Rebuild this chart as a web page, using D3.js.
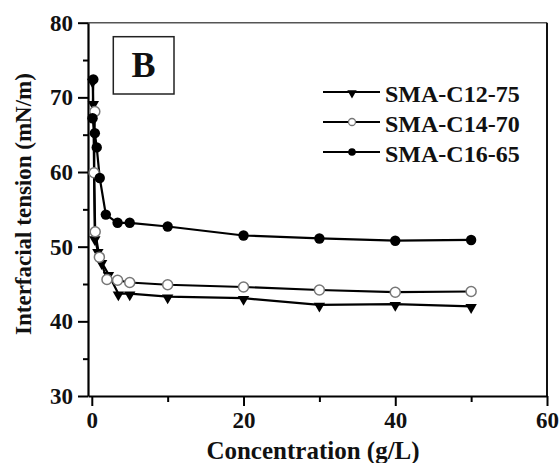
<!DOCTYPE html>
<html>
<head>
<meta charset="utf-8">
<script src="https://cdn.jsdelivr.net/npm/d3@7"></script>
<style>
  body { margin: 0; background: #fff; }
  text { font-family: "Liberation Serif", "Times New Roman", serif; font-weight: bold; }
</style>
</head>
<body>
<div id="chart"></div>
<script>
// data
var c12x = [0.1, 0.2, 0.4, 0.8, 1.3, 2.2, 3.5, 5, 10, 20, 30, 40, 50];
var c12y = [72.2, 69.2, 51.1, 49.4, 47.9, 46.3, 43.7, 43.7, 43.3, 43.1, 42.2, 42.3, 42.0];

var c14x = [0.4, 0.3, 0.45, 1, 2, 3.4, 5, 10, 20, 30, 40, 50];
var c14y = [68.1, 59.9, 52.0, 48.6, 45.6, 45.5, 45.2, 44.9, 44.6, 44.2, 43.9, 44.0];

var c16x = [0.2, 0.1, 0.4, 0.65, 1.05, 1.85, 3.4, 5, 10, 20, 30, 40, 50];
var c16y = [72.4, 67.2, 65.2, 63.3, 59.2, 54.3, 53.2, 53.2, 52.7, 51.5, 51.1, 50.8, 50.9];

var seriesNames = ["SMA-C12-75", "SMA-C14-70", "SMA-C16-65"];
var xTicks = [0, 20, 40, 60];
var xMinor = [10, 30, 50];
var yTicks = [30, 40, 50, 60, 70, 80];
var yMinor = [35, 45, 55, 65, 75];

var svgWidth = 560, svgHeight = 463;
var plotLeft = 88, plotRight = 547, plotTop = 22.7, plotBottom = 396;

var svg = d3.select("#chart").append("svg")
  .attr("width", svgWidth)
  .attr("height", svgHeight);

var x = d3.scaleLinear().domain([-0.5, 60]).range([plotLeft, plotRight]);
var y = d3.scaleLinear().domain([30, 80]).range([plotBottom, plotTop]);

// frame top / right
svg.append("line").attr("x1", plotLeft).attr("x2", plotRight).attr("y1", plotTop).attr("y2", plotTop)
  .attr("stroke", "#555").attr("stroke-width", 1.5);
svg.append("line").attr("x1", plotRight).attr("x2", plotRight).attr("y1", plotTop).attr("y2", plotBottom)
  .attr("stroke", "#111").attr("stroke-width", 2);

// minor ticks first, then the main axes
svg.append("g").attr("class", "minor").attr("transform", `translate(0,${plotBottom})`)
  .call(d3.axisBottom(x).tickValues(xMinor).tickSize(6).tickFormat(""));
svg.append("g").attr("class", "minor").attr("transform", `translate(${plotLeft},0)`)
  .call(d3.axisLeft(y).tickValues(yMinor).tickSize(5).tickFormat(""));
svg.selectAll(".minor .domain").remove();

var xAxis = svg.append("g").attr("transform", `translate(0,${plotBottom})`)
  .call(d3.axisBottom(x).tickValues(xTicks).tickSize(10).tickSizeOuter(0).tickPadding(6).tickFormat(d3.format("d")));
var yAxis = svg.append("g").attr("transform", `translate(${plotLeft},0)`)
  .call(d3.axisLeft(y).tickValues(yTicks).tickSize(10).tickSizeOuter(0).tickPadding(5).tickFormat(d3.format("d")));

svg.selectAll(".domain").attr("stroke", "#000").attr("stroke-width", 2.2);
svg.selectAll(".tick line").attr("stroke", "#000").attr("stroke-width", 2);
svg.selectAll(".tick text")
  .attr("font-family", "Liberation Serif, serif")
  .attr("font-weight", "bold")
  .attr("font-size", 23)
  .attr("fill", "#111");

// axis titles
svg.append("text")
  .attr("x", 313).attr("y", 459)
  .attr("text-anchor", "middle")
  .attr("font-size", 25)
  .attr("fill", "#111")
  .text("Concentration (g/L)");

svg.append("text")
  .attr("transform", "translate(31,204) rotate(-90)")
  .attr("text-anchor", "middle")
  .attr("font-size", 23)
  .attr("fill", "#111")
  .text("Interfacial tension (mN/m)");

// panel label
svg.append("rect").attr("x", 113.3).attr("y", 36.7).attr("width", 60.7).attr("height", 57.3)
  .attr("fill", "none").attr("stroke", "#222").attr("stroke-width", 1.5);
svg.append("text").attr("x", 143.6).attr("y", 77.3).attr("text-anchor", "middle")
  .attr("font-size", 36).attr("fill", "#111").text("B");

var line = d3.line().x(d => x(d[0])).y(d => y(d[1]));

function pairs(xs, ys) { return xs.map((v, i) => [v, ys[i]]); }

var d12 = pairs(c12x, c12y), d14 = pairs(c14x, c14y), d16 = pairs(c16x, c16y);

var tri = d3.symbol().type(d3.symbolTriangle).size(56);
var triSmall = d3.symbol().type(d3.symbolTriangle).size(38);

// lines
[d16, d14, d12].forEach(function(d) {
  svg.append("path").datum(d)
    .attr("d", line)
    .attr("fill", "none")
    .attr("stroke", "#000")
    .attr("stroke-width", 2.2);
});

// markers
svg.selectAll(".m12").data(d12).enter().append("path")
  .attr("class", "m12")
  .attr("d", tri)
  .attr("transform", d => `translate(${x(d[0])},${y(d[1]) + 1}) rotate(180)`)
  .attr("fill", "#000");

svg.selectAll(".m14").data(d14).enter().append("circle")
  .attr("class", "m14")
  .attr("cx", d => x(d[0])).attr("cy", d => y(d[1]))
  .attr("r", 5)
  .attr("fill", "#fff").attr("stroke", "#777").attr("stroke-width", 1.5);

svg.selectAll(".m16").data(d16).enter().append("circle")
  .attr("class", "m16")
  .attr("cx", d => x(d[0])).attr("cy", d => y(d[1]))
  .attr("r", 5.2)
  .attr("fill", "#000");

// legend
var legendY = [92, 122, 152];
seriesNames.forEach(function(name, i) {
  var ly = legendY[i];
  svg.append("line").attr("x1", 323).attr("x2", 380).attr("y1", ly).attr("y2", ly)
    .attr("stroke", "#000").attr("stroke-width", 2.2);
  if (i === 0) {
    svg.append("path").attr("d", triSmall)
      .attr("transform", `translate(352,${ly + 1}) rotate(180)`).attr("fill", "#000");
  } else if (i === 1) {
    svg.append("circle").attr("cx", 352).attr("cy", ly).attr("r", 3.5)
      .attr("fill", "#fff").attr("stroke", "#777").attr("stroke-width", 1.3);
  } else {
    svg.append("circle").attr("cx", 352).attr("cy", ly).attr("r", 3.8).attr("fill", "#000");
  }
  svg.append("text").attr("x", 385).attr("y", ly + 9.5)
    .attr("font-size", 24).attr("fill", "#111")
    .text(name);
});
</script>
</body>
</html>
